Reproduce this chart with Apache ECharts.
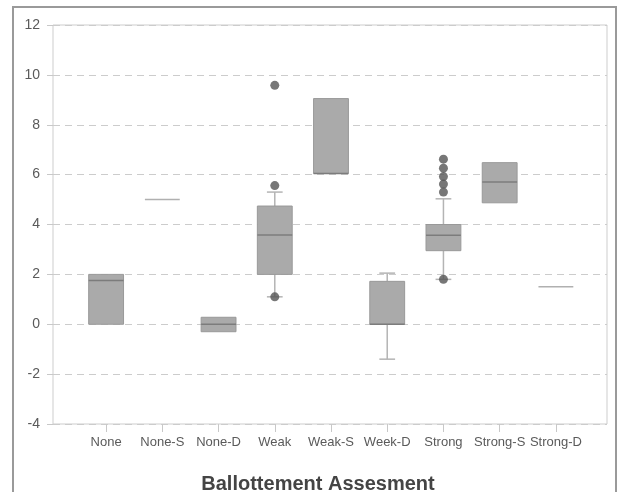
<!DOCTYPE html>
<html>
<head>
<meta charset="utf-8">
<script src="https://cdn.jsdelivr.net/npm/echarts@6/dist/echarts.min.js"></script>
<style>html,body{margin:0;padding:0;background:#fff;}#c{width:621px;height:492px;}</style>
</head>
<body>
<div id="c"></div>
<script>
var categories = ['None', 'None-S', 'None-D', 'Weak', 'Weak-S', 'Week-D', 'Strong', 'Strong-S', 'Strong-D'];
// [min, Q1, median, Q3, max]
var boxValues = [
  [0, 0, 1.75, 2.0, 2.0],
  [5.0, 5.0, 5.0, 5.0, 5.0],
  [-0.3, -0.3, 0, 0.28, 0.28],
  [1.1, 2.0, 3.58, 4.74, 5.3],
  [6.05, 6.05, 6.05, 9.05, 9.05],
  [-1.4, 0, 0, 1.72, 2.05],
  [1.8, 2.95, 3.57, 4.0, 5.03],
  [4.87, 4.87, 5.7, 6.48, 6.48],
  [1.5, 1.5, 1.5, 1.5, 1.5]
];
// [category index, value]
var outliers = [
  [3, 9.58], [3, 5.56], [3, 1.1],
  [6, 6.62], [6, 6.26], [6, 5.92], [6, 5.62], [6, 5.3], [6, 1.8]
];
var yTicks = { min: -4, max: 12, interval: 2 };
var xTitle = 'Ballottement Assesment';

var boxData = boxValues.map(function (v, i) { return [i].concat(v); });

var chart = echarts.init(document.getElementById('c'), null, { renderer: 'canvas' });
var FONT = 'Liberation Sans, Arial, sans-serif';

function renderBox(params, api) {
  var idx = api.value(0);
  var band = api.size([1, 0])[0];
  var bw = band * 0.62, cw = band * 0.28;
  var x = api.coord([idx, 0])[0];
  var yMin = api.coord([idx, api.value(1)])[1];
  var yQ1 = api.coord([idx, api.value(2)])[1];
  var yMed = api.coord([idx, api.value(3)])[1];
  var yQ3 = api.coord([idx, api.value(4)])[1];
  var yMax = api.coord([idx, api.value(5)])[1];
  var wStyle = { stroke: '#b4b4b4', lineWidth: 1.5 };
  var children = [];
  if (yMax < yQ3) {
    children.push({ type: 'line', shape: { x1: x, y1: yQ3, x2: x, y2: yMax }, style: wStyle });
    children.push({ type: 'line', shape: { x1: x - cw / 2, y1: yMax, x2: x + cw / 2, y2: yMax }, style: wStyle });
  }
  if (yMin > yQ1) {
    children.push({ type: 'line', shape: { x1: x, y1: yQ1, x2: x, y2: yMin }, style: wStyle });
    children.push({ type: 'line', shape: { x1: x - cw / 2, y1: yMin, x2: x + cw / 2, y2: yMin }, style: wStyle });
  }
  if (yQ1 - yQ3 > 0.5) {
    children.push({ type: 'rect', shape: { x: x - bw / 2, y: yQ3, width: bw, height: yQ1 - yQ3 },
      style: { fill: '#aaaaaa', stroke: '#999999', lineWidth: 1 } });
    children.push({ type: 'line', shape: { x1: x - bw / 2, y1: yMed, x2: x + bw / 2, y2: yMed },
      style: { stroke: '#7c7c7c', lineWidth: 1.5 } });
  } else {
    children.push({ type: 'line', shape: { x1: x - bw / 2, y1: yMed, x2: x + bw / 2, y2: yMed },
      style: { stroke: '#b0b0b0', lineWidth: 1.5 } });
  }
  return { type: 'group', children: children };
}

var option = {
  backgroundColor: '#ffffff',
  animation: false,
  title: {
    text: xTitle, left: 313, top: 469, textAlign: 'center',
    textStyle: { fontFamily: FONT, fontSize: 20, fontWeight: 'bold', color: '#444' }
  },
  grid: [
    { left: 53, right: 14, top: 25, bottom: 68, show: true, borderColor: '#cdcdcd', borderWidth: 1, backgroundColor: 'transparent' },
    { left: 78, right: 37, top: 25, bottom: 68 }
  ],
  xAxis: [
    { gridIndex: 0, type: 'category', data: categories, show: false },
    {
      gridIndex: 1, type: 'category', data: categories, boundaryGap: true, position: 'bottom',
      axisLine: { show: false, onZero: false },
      axisTick: { show: true, alignWithLabel: true, length: 8, lineStyle: { color: '#c8c8c8' } },
      axisLabel: { margin: 12, fontFamily: FONT, fontSize: 13, color: '#5a5a5a', interval: 0 },
      splitLine: { show: false }
    }
  ],
  yAxis: [
    {
      gridIndex: 0, type: 'value', min: yTicks.min, max: yTicks.max, interval: yTicks.interval,
      axisLine: { show: false },
      axisTick: { show: true, length: 6, lineStyle: { color: '#c8c8c8' } },
      axisLabel: { margin: 13, fontFamily: FONT, fontSize: 14, color: '#5a5a5a' },
      splitLine: { show: true, lineStyle: { color: '#cccccc', type: [7, 5], width: 1.2 } }
    },
    {
      gridIndex: 1, type: 'value', min: yTicks.min, max: yTicks.max, interval: yTicks.interval,
      show: false, splitLine: { show: false }
    }
  ],
  series: [
    {
      type: 'custom', xAxisIndex: 1, yAxisIndex: 1, data: boxData,
      renderItem: renderBox, encode: { x: 0, y: [1, 2, 3, 4, 5] }, z: 3
    },
    {
      type: 'scatter', xAxisIndex: 1, yAxisIndex: 1, data: outliers,
      symbolSize: 9, itemStyle: { color: '#555555' }, z: 4
    }
  ],
  graphic: [
    { type: 'rect', shape: { x: 13, y: 7, width: 603, height: 495 },
      style: { fill: 'none', stroke: '#9a9a9a', lineWidth: 2 }, silent: true }
  ]
};
chart.setOption(option);
</script>
</body>
</html>
